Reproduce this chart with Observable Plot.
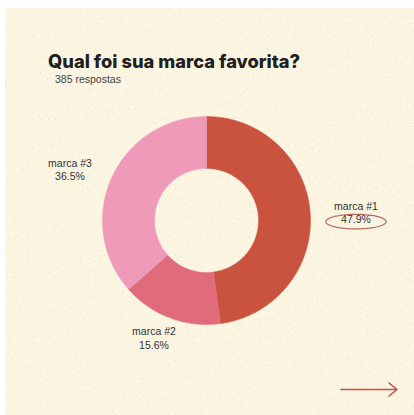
<!DOCTYPE html>
<html>
<head>
<meta charset="utf-8">
<script src="https://cdn.jsdelivr.net/npm/d3@7"></script>
<script src="https://cdn.jsdelivr.net/npm/@observablehq/plot@0.6"></script>
<style>
  html, body { margin: 0; padding: 0; background: #ffffff; width: 414px; height: 415px; overflow: hidden; }
  #card { position: absolute; left: 5px; top: 8px; width: 409px; height: 407px; background-color: #fcf5e1; }
  #speckle { position: absolute; left: 5px; top: 8px; }
  #title {
    position: absolute; left: 48px; top: 50px; margin: 0;
    font-family: Inter, "DejaVu Sans", sans-serif; font-weight: 800; font-size: 18.3px;
    color: #1f1f1f; letter-spacing: 0px; white-space: nowrap;
  }
  #subtitle {
    position: absolute; left: 55px; top: 73px; margin: 0;
    font-family: "Liberation Sans", Arial, sans-serif; font-size: 10.5px; color: #444;
  }
  #chart { position: absolute; left: 0; top: 100px; }
  #arrow { position: absolute; left: 0; top: 0; pointer-events: none; }
</style>
</head>
<body>
<div id="card"></div>
<svg id="speckle" width="409" height="407">
  <filter id="noise" x="0" y="0" width="100%" height="100%">
    <feTurbulence type="fractalNoise" baseFrequency="0.85" numOctaves="2" seed="7"/>
    <feColorMatrix values="0 0 0 0 0.72  0 0 0 0 0.67  0 0 0 0 0.58  0 0 0 14 -9.6"/>
  </filter>
  <rect width="409" height="407" filter="url(#noise)" opacity="0.45"/>
</svg>
<h1 id="title">Qual foi sua marca favorita?</h1>
<p id="subtitle">385 respostas</p>
<div id="chart"></div>
<svg id="arrow" width="414" height="415">
  <path d="M341,389.5 H397 M389,383 L397,389.5 L389,396" fill="none" stroke="#c9514a" stroke-width="1.6" stroke-linecap="round" stroke-linejoin="round"/>
</svg>
<script>
// ---- data ----
const categories = ["marca #1", "marca #2", "marca #3"];
const percentages = [47.9, 15.6, 36.5];
const percentLabels = ["47.9%", "15.6%", "36.5%"];
const sliceColors = ["#c9533f", "#e06b7a", "#ee9ab8"];
const highlighted = "marca #1";

// ---- geometry derived from data ----
const innerRatio = 0.5;
const pie = d3.pie().sort(null).value(d => d)(percentages);

const ringPoints = [];
pie.forEach((s, i) => {
  const n = Math.max(2, Math.ceil((s.endAngle - s.startAngle) / 0.01));
  for (let k = 0; k <= n; k++) {
    const a = s.startAngle + (s.endAngle - s.startAngle) * k / n;
    ringPoints.push({cat: categories[i], x: Math.sin(a), y: Math.cos(a)});
  }
  for (let k = n; k >= 0; k--) {
    const a = s.startAngle + (s.endAngle - s.startAngle) * k / n;
    ringPoints.push({cat: categories[i], x: innerRatio * Math.sin(a), y: innerRatio * Math.cos(a)});
  }
});

const labels = pie.map((s, i) => {
  const a = (s.startAngle + s.endAngle) / 2;
  return {cat: categories[i], text: categories[i] + "\n" + percentLabels[i],
          x: 1.44 * Math.sin(a), y: 1.2 * Math.cos(a)};
});

// highlight ellipse around the percentage line of the highlighted label
const hl = labels.find(d => d.cat === highlighted);
const ellipse = d3.range(0, 2 * Math.PI + 0.001, 0.05).map(t => ({
  x: hl.x + 0.29 * Math.cos(t),
  y: hl.y - 0.09 + 0.07 * Math.sin(t)
}));

const R = 104;
const chart = Plot.plot({
  width: 414,
  height: 300,
  margin: 0,
  x: {domain: [-206 / R, 208 / R], range: [0, 414], axis: null},
  y: {domain: [-180 / R, 120 / R], range: [300, 0], axis: null},
  color: {domain: categories, range: sliceColors},
  style: {background: "transparent", overflow: "visible"},
  marks: [
    Plot.line(ringPoints, {x: "x", y: "y", z: "cat", fill: "cat", stroke: "cat", strokeWidth: 0.5, curve: "linear-closed"}),
    Plot.line(ellipse, {x: "x", y: "y", stroke: "#b8675f", strokeWidth: 1.2, curve: "linear-closed"}),
    Plot.text(labels, {x: "x", y: "y", text: "text", fill: "#333", fontSize: 10.5,
      lineHeight: 1.3, lineAnchor: "middle", textAnchor: "middle",
      fontFamily: "'Liberation Sans', Arial, sans-serif"})
  ]
});
document.getElementById("chart").appendChild(chart);
</script>
</body>
</html>
